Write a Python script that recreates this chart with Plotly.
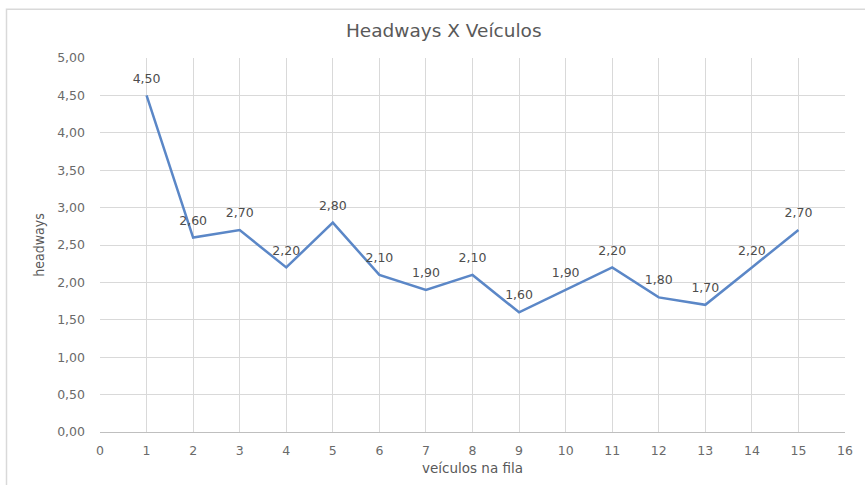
import plotly.graph_objects as go

# Queue position of each vehicle and its measured headway (s)
veiculos = [1, 2, 3, 4, 5, 6, 7, 8, 9, 10, 11, 12, 13, 14, 15]
headways = [4.50, 2.60, 2.70, 2.20, 2.80, 2.10, 1.90, 2.10, 1.60, 1.90, 2.20, 1.80, 1.70, 2.20, 2.70]

x_ticks = list(range(0, 17))
y_ticks = [0, 0.5, 1, 1.5, 2, 2.5, 3, 3.5, 4, 4.5, 5]

base_font = "DejaVu Sans, Verdana, sans-serif"
tick_font = dict(family=base_font, size=12.5, color="#6A6A6A")
grid = "#D9D9D9"

fig = go.Figure()
fig.add_trace(go.Scatter(
    x=veiculos,
    y=headways,
    mode="lines+markers+text",
    line=dict(color="#5B87C7", width=2.5),
    # transparent markers only push the value labels up above each point
    marker=dict(size=14, color="rgba(0,0,0,0)"),
    text=[f"{v:.2f}".replace(".", ",") for v in headways],
    textposition="top center",
    textfont=dict(family=base_font, size=12.5, color="#4D4D4D"),
    cliponaxis=False,
    hoverinfo="skip",
    showlegend=False,
))

fig.update_layout(
    width=865,
    height=485,
    margin=dict(l=100, r=16, t=58, b=52),
    paper_bgcolor="white",
    plot_bgcolor="white",
    separators=", ",
    title=dict(
        text="Headways X Veículos",
        x=0.513,
        xanchor="center",
        y=1 - 31 / 485,
        yanchor="middle",
        font=dict(family=base_font, size=18.5, color="#595959"),
    ),
    xaxis=dict(
        range=[0, 16],
        tickvals=x_ticks,
        ticktext=[str(t) for t in x_ticks],
        showgrid=True,
        gridcolor=grid,
        gridwidth=1,
        zeroline=False,
        showline=True,
        linecolor="#BFBFBF",
        linewidth=1,
        ticks="",
        ticklabelstandoff=7,
        tickfont=tick_font,
        title=dict(text="veículos na fila", standoff=6,
                   font=dict(family=base_font, size=13.5, color="#595959")),
    ),
    yaxis=dict(
        range=[0, 5],
        tickvals=y_ticks,
        tickformat=".2f",
        showgrid=True,
        gridcolor=grid,
        gridwidth=1,
        zeroline=False,
        showline=False,
        ticks="",
        ticklabelstandoff=14,
        tickfont=tick_font,
        title=dict(text="headways", standoff=9,
                   font=dict(family="DejaVu Sans Condensed, Liberation Sans Narrow, sans-serif",
                             size=14, color="#595959")),
    ),
    shapes=[
        # light frame around the chart area
        dict(type="rect", xref="paper", yref="paper",
             x0=-94 / 749, x1=1.2, y0=-0.3, y1=1 + 49 / 375,
             line=dict(color="#D9D9D9", width=1.5), layer="below"),
    ],
)

fig.write_html("out.html")
